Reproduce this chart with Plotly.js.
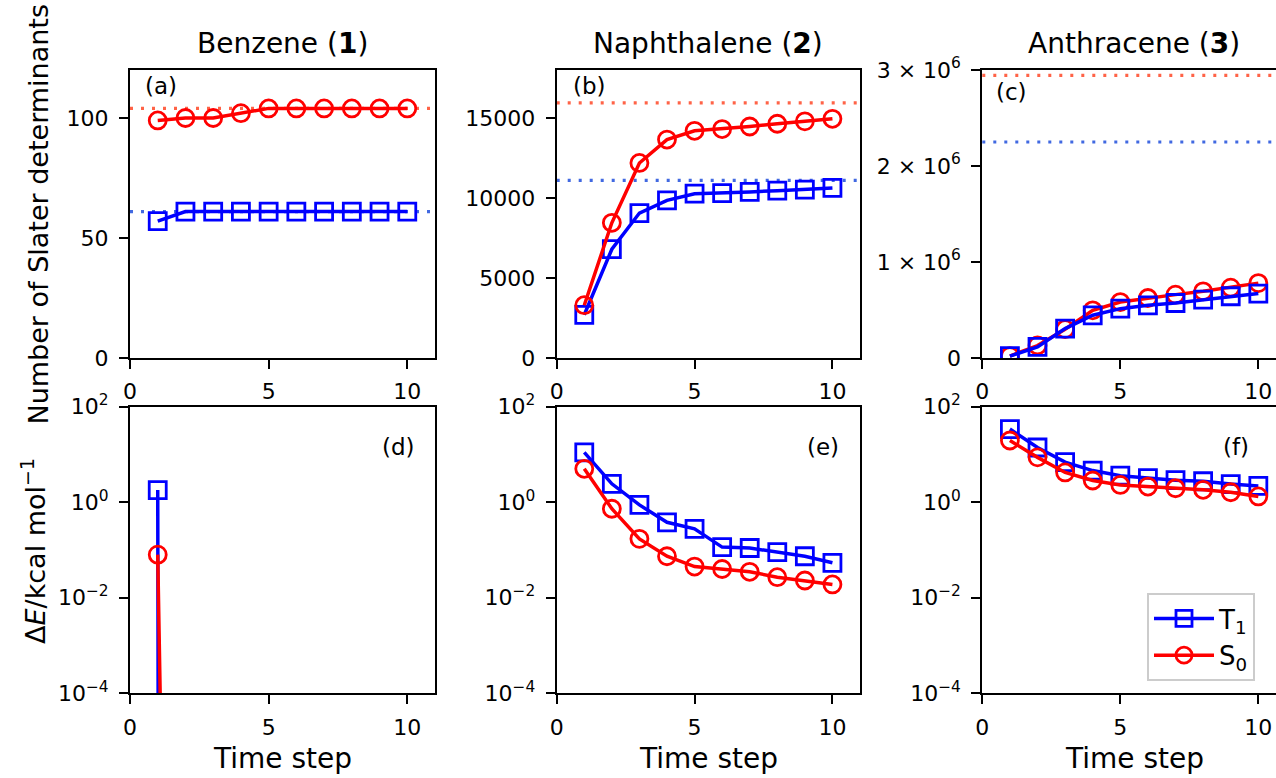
<!DOCTYPE html>
<html>
<head>
<meta charset="utf-8">
<script src="https://cdn.plot.ly/plotly-3.0.1.min.js"></script>
<style>html,body{margin:0;padding:0;background:#fff;}#chart{width:1276px;height:778px;}</style>
</head>
<body>
<div id="chart"></div>
<script>
// ---------- data ----------
const steps = [1, 2, 3, 4, 5, 6, 7, 8, 9, 10];

// Number of Slater determinants
const benzeneT1N = [57, 61, 61, 61, 61, 61, 61, 61, 61, 61];
const benzeneS0N = [99, 100, 100, 102, 104, 104, 104, 104, 104, 104];
const naphT1N = [2700, 6800, 9060, 9850, 10270, 10310, 10380, 10460, 10520, 10630];
const naphS0N = [3300, 8450, 12190, 13650, 14200, 14310, 14470, 14640, 14790, 14950];
const anthT1N = [20000, 115000, 306000, 445000, 514000, 549000, 573000, 608000, 643000, 671000];
const anthS0N = [20000, 130000, 300000, 497000, 583000, 625000, 660000, 695000, 733000, 780000];

// Reference (full) determinant counts (dotted lines)
const refT1N = [61, 11100, 2250000];
const refS0N = [104, 15940, 2945000];

// Energy error ΔE (kcal/mol); 0 = exact
const benzeneT1E = [1.8, 0, 0, 0, 0, 0, 0, 0, 0, 0];
const benzeneS0E = [0.08, 0, 0, 0, 0, 0, 0, 0, 0, 0];
const naphT1E = [11.1, 2.43, 0.88, 0.38, 0.277, 0.115, 0.11, 0.09, 0.074, 0.054];
const naphS0E = [5.0, 0.73, 0.171, 0.074, 0.045, 0.04, 0.035, 0.027, 0.023, 0.019];
const anthT1E = [34, 14, 6.9, 4.6, 3.6, 3.2, 2.9, 2.75, 2.4, 2.2];
const anthS0E = [19.6, 8.7, 4.2, 2.85, 2.3, 2.13, 1.96, 1.82, 1.62, 1.32];

const molecules = ['Benzene (<b>1</b>)', 'Naphthalene (<b>2</b>)', 'Anthracene (<b>3</b>)'];
const panelLetters = ['(a)', '(b)', '(c)', '(d)', '(e)', '(f)'];
const xTicks = [0, 5, 10];
const yTicksA = [0, 50, 100];
const yTicksB = [0, 5000, 10000, 15000];
const yTicksC = [0, 1000000, 2000000, 3000000];
const yTickTextC = ['0', '1 × 10<sup>6</sup>', '2 × 10<sup>6</sup>', '3 × 10<sup>6</sup>'];
const yTicksLog = [1e-4, 1e-2, 1, 100];
const yTickTextLog = ['10<sup>−4</sup>', '10<sup>−2</sup>', '10<sup>0</sup>', '10<sup>2</sup>'];
const seriesNames = ['T<sub>1</sub>', 'S<sub>0</sub>'];

// ---------- styling ----------
const W = 1276, H = 778;
const FONT = 'DejaVu Sans, sans-serif';
const BLUE = '#0000ff', RED = '#ff0000';
const BLUE_REF = '#4169e1', RED_REF = '#ff6347';
const colPx = [[130, 435], [556.7, 860], [982.3, 1276]];
const rowPx = [[70, 358], [406.7, 693.3]];
const xRanges = [[0, 11], [0, 11], [0, 10.64]];

// log-axis floor emulating matplotlib clipping of non-positive values
const floorLog = arr => arr.map(v => v > 0 ? v : 1e-300);

const layout = {
  width: W, height: H,
  margin: {l: 0, r: 0, t: 0, b: 0},
  paper_bgcolor: '#fff', plot_bgcolor: '#fff',
  font: {family: FONT, size: 22, color: '#000'},
  showlegend: true,
  legend: {
    x: 1147 / W, y: (H - 593) / H, xanchor: 'left', yanchor: 'top',
    bgcolor: 'rgba(255,255,255,0.8)', bordercolor: '#cccccc', borderwidth: 2,
    font: {family: FONT, size: 26, color: '#000'}, itemwidth: 60,
    tracegroupgap: 0
  },
  annotations: [], shapes: []
};

function axisBase(){
  return {
    showgrid: false, zeroline: false, showline: true, linecolor: '#000', linewidth: 2,
    ticks: 'outside', ticklen: 9, tickwidth: 2, tickcolor: '#000',
    tickfont: {family: FONT, size: 22, color: '#000'}, automargin: false, fixedrange: true
  };
}

const traces = [];
const dataN = [[benzeneT1N, benzeneS0N], [naphT1N, naphS0N], [anthT1N, anthS0N]];
const dataE = [[benzeneT1E, benzeneS0E], [naphT1E, naphS0E], [anthT1E, anthS0E]];
const yTopTicks = [yTicksA, yTicksB, yTicksC];
const yTopRanges = [[0, 120], [0, 18000], [0, 3000000]];

for (let r = 0; r < 2; r++) {
  for (let c = 0; c < 3; c++) {
    const idx = r * 3 + c + 1;
    const xa = 'xaxis' + (idx === 1 ? '' : idx), ya = 'yaxis' + (idx === 1 ? '' : idx);
    const xr = 'x' + (idx === 1 ? '' : idx), yr = 'y' + (idx === 1 ? '' : idx);
    const X = axisBase();
    X.domain = [colPx[c][0] / W, colPx[c][1] / W];
    X.range = xRanges[c];
    X.tickvals = xTicks; X.ticktext = xTicks.map(String);
    X.anchor = yr; X.mirror = true; X.ticklabelstandoff = 4;
    const Y = axisBase();
    Y.domain = [(H - rowPx[r][1]) / H, (H - rowPx[r][0]) / H];
    Y.anchor = xr; Y.mirror = (c < 2); Y.ticklabelstandoff = 6;
    if (r === 0) {
      Y.range = yTopRanges[c];
      Y.tickvals = yTopTicks[c];
      Y.ticktext = c === 2 ? yTickTextC : yTopTicks[c].map(String);
    } else {
      Y.type = 'log';
      Y.range = [-4, 2];
      Y.tickvals = yTicksLog; Y.ticktext = yTickTextLog;
    }
    layout[xa] = X; layout[ya] = Y;

    if (r === 0) {
      // reference lines
      [[refT1N[c], BLUE_REF], [refS0N[c], RED_REF]].forEach(([v, col]) => {
        layout.shapes.push({type: 'line', layer: 'below', xref: xr + ' domain', yref: yr,
          x0: 0, x1: 1, y0: v, y1: v, line: {color: col, width: 3.2, dash: '3px,8px'}});
      });
    }

    const src = r === 0 ? dataN[c] : dataE[c];
    const specs = [
      {y: src[0], color: BLUE, symbol: 'square-open', name: seriesNames[0]},
      {y: src[1], color: RED, symbol: 'circle-open', name: seriesNames[1]}
    ];
    // in panel (c) T1 is drawn on top of S0
    const order = (r === 0 && c === 2) ? [1, 0] : [0, 1];
    order.forEach(k => {
      const s = specs[k];
      traces.push({
        type: 'scatter', mode: 'lines+markers', x: steps,
        y: r === 1 ? floorLog(s.y) : s.y,
        xaxis: xr, yaxis: yr, name: s.name,
        line: {color: s.color, width: 3.5, shape: 'linear'},
        marker: {symbol: s.symbol, size: 17, color: s.color, line: {color: s.color, width: 2.8}},
        showlegend: (r === 1 && c === 2), legendrank: k + 1,
        cliponaxis: true, hoverinfo: 'skip'
      });
    });

    // panel letter
    const letterPos = [[0.1016, 0.944], [0.1065, 0.944], [0.0994, 0.9236], [0.879, 0.859], [0.879, 0.859], [0.865, 0.859]][idx - 1];
    layout.annotations.push({text: panelLetters[idx - 1], xref: xr + ' domain', yref: yr + ' domain',
      x: letterPos[0], y: letterPos[1], xanchor: 'center', yanchor: 'middle', showarrow: false,
      font: {family: FONT, size: 23, color: '#000'}});
  }
}

// column titles
molecules.forEach((m, c) => {
  layout.annotations.push({text: m, xref: 'paper', yref: 'paper',
    x: ((colPx[c][0] + (c === 2 ? 1286 : colPx[c][1])) / 2) / W, y: (H - 43) / H,
    xanchor: 'center', yanchor: 'middle', showarrow: false,
    font: {family: FONT, size: 28, color: '#000'}});
  layout.annotations.push({text: 'Time step', xref: 'paper', yref: 'paper',
    x: ((colPx[c][0] + (c === 2 ? 1286 : colPx[c][1])) / 2) / W, y: (H - 758) / H,
    xanchor: 'center', yanchor: 'middle', showarrow: false,
    font: {family: FONT, size: 28, color: '#000'}});
});
// y-axis titles
layout.annotations.push({text: 'Number of Slater determinants', xref: 'paper', yref: 'paper',
  x: 37.5 / W, y: (H - 214) / H, xanchor: 'center', yanchor: 'middle', textangle: -90,
  showarrow: false, font: {family: FONT, size: 27, color: '#000'}});
layout.annotations.push({text: 'Δ<i>E</i>/kcal mol<sup>−1</sup>', xref: 'paper', yref: 'paper',
  x: 33 / W, y: (H - 551) / H, xanchor: 'center', yanchor: 'middle', textangle: -90,
  showarrow: false, font: {family: FONT, size: 27, color: '#000'}});

Plotly.newPlot('chart', traces, layout, {staticPlot: true, displayModeBar: false});
</script>
</body>
</html>
